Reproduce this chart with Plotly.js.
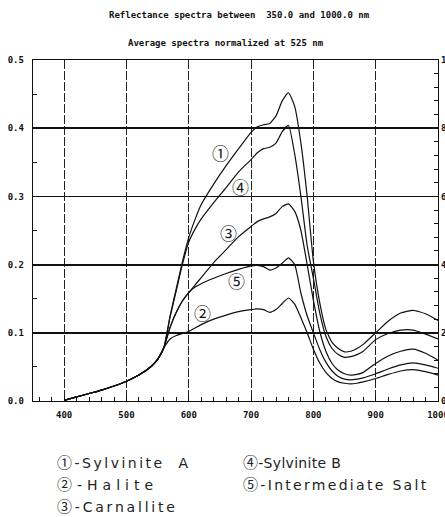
<!DOCTYPE html>
<html>
<head>
<meta charset="utf-8">
<script src="https://cdn.plot.ly/plotly-3.0.1.min.js"></script>
<style>
html,body{margin:0;padding:0;background:#fff;overflow:hidden;}
#chart{width:445px;height:517px;}
</style>
</head>
<body>
<div id="chart"></div>
<script>
// Wavelengths (nm)
const wavelengths = [400,420,440,460,480,500,520,540,550,560,570,580,590,600,610,620,640,660,680,700,710,720,730,740,750,760,770,780,790,800,810,820,830,840,850,860,870,880,900,920,940,960,980,1000];

// Reflectance, normalized at 525 nm
const sylviniteA = [0.001,0.006,0.011,0.016,0.022,0.029,0.038,0.051,0.061,0.078,0.125,0.165,0.205,0.240,0.266,0.288,0.318,0.345,0.370,0.394,0.402,0.405,0.407,0.418,0.440,0.452,0.432,0.378,0.300,0.205,0.145,0.105,0.086,0.077,0.072,0.073,0.077,0.083,0.100,0.117,0.129,0.133,0.128,0.118];
const halite = [0.001,0.006,0.011,0.016,0.022,0.029,0.038,0.051,0.061,0.078,0.091,0.096,0.099,0.102,0.107,0.112,0.120,0.126,0.131,0.134,0.135,0.134,0.130,0.134,0.143,0.151,0.142,0.122,0.100,0.076,0.056,0.042,0.033,0.028,0.026,0.025,0.026,0.028,0.033,0.039,0.044,0.046,0.043,0.038];
const carnallite = [0.001,0.006,0.011,0.016,0.022,0.029,0.038,0.051,0.061,0.078,0.108,0.130,0.147,0.159,0.170,0.181,0.203,0.222,0.241,0.256,0.263,0.267,0.270,0.275,0.285,0.289,0.278,0.250,0.200,0.148,0.103,0.073,0.055,0.045,0.040,0.038,0.039,0.042,0.055,0.066,0.073,0.076,0.070,0.060];
const sylviniteB = [0.001,0.006,0.011,0.016,0.022,0.029,0.038,0.051,0.061,0.078,0.123,0.162,0.201,0.233,0.252,0.267,0.291,0.313,0.336,0.354,0.364,0.370,0.372,0.378,0.395,0.404,0.362,0.300,0.228,0.180,0.130,0.095,0.077,0.068,0.064,0.065,0.068,0.073,0.090,0.099,0.104,0.104,0.098,0.091];
const intermediateSalt = [0.001,0.006,0.011,0.016,0.022,0.029,0.038,0.051,0.061,0.078,0.108,0.130,0.147,0.159,0.167,0.172,0.180,0.187,0.193,0.198,0.199,0.197,0.192,0.195,0.202,0.210,0.200,0.158,0.125,0.100,0.076,0.057,0.044,0.036,0.032,0.031,0.032,0.034,0.040,0.047,0.053,0.056,0.053,0.048];

const seriesValues = [sylviniteA, halite, carnallite, sylviniteB, intermediateSalt];
const seriesMarks = ["①","②","③","④","⑤"];
const seriesNames = ["Sylvinite A","Halite","Carnallite","Sylvinite B","Intermediate Salt"];
const legendLabels = ["Sylvinite  A","Halite","Carnallite","Sylvinite B","Intermediate Salt"];

const xTickVals = [400,500,600,700,800,900,1000];
const yTickVals = [0,0.1,0.2,0.3,0.4,0.5];
const y2TickVals = [0,20,40,60,80,100];

const titleLine1 = "Reflectance spectra between  350.0 and 1000.0 nm";
const titleLine2 = "Average spectra normalized at 525 nm";

const bitFont = {family: "DejaVu Sans Mono", size: 9, color: "#111", weight: "bold"};
const circFamily = "Noto Sans CJK JP";

// plot area geometry in pixels
const M = {l: 33, r: 7, t: 60, b: 116};
const PH = 517 - M.t - M.b, PW = 445 - M.l - M.r;
const py = p => (517 - M.b - p) / PH;
const px = p => (p - M.l) / PW;

const traces = seriesValues.map((vals, i) => ({
  x: wavelengths, y: vals, type: "scatter", mode: "lines",
  name: seriesNames[i],
  line: {color: "#111", width: 1.2, shape: "spline", smoothing: 0.5},
  hoverinfo: "skip", showlegend: false
}));
traces.push({x: [350], y: [0], yaxis: "y2", mode: "markers", marker: {opacity: 0}, showlegend: false, hoverinfo: "skip"});

const curveLabelPos = [[651,0.365],[622,0.130],[664,0.247],[683,0.315],[677,0.176]];
const annotations = curveLabelPos.map((p, i) => ({
  x: p[0], y: p[1], xref: "x", yref: "y", text: seriesMarks[i], showarrow: false,
  font: {family: circFamily, size: 17, color: "#111"}
}));

annotations.push({xref: "paper", yref: "paper", x: px(240), y: py(15), yanchor: "middle", xanchor: "center", text: titleLine1, showarrow: false, font: bitFont});
annotations.push({xref: "paper", yref: "paper", x: px(226), y: py(43), yanchor: "middle", xanchor: "center", text: titleLine2, showarrow: false, font: bitFont});

const legendPos = [[57,461],[57,483],[57,505],[243,461],[243,483]];
const legendStart = annotations.length;
legendPos.forEach((p, i) => {
  annotations.push({
    xref: "paper", yref: "paper",
    x: px(p[0]), y: py(p[1]), yanchor: "middle", xanchor: "left",
    text: '<span style="font-family:' + circFamily + ';font-size:15px">' + seriesMarks[i] + '</span>-' + legendLabels[i],
    showarrow: false,
    font: {family: "DejaVu Sans", size: 14, color: "#222"}
  });
});
const legendSpacing = [2.5, 5, 2.8, 0.3, 2.3];

const layout = {
  width: 445, height: 517,
  margin: M,
  paper_bgcolor: "#fff", plot_bgcolor: "#fff",
  showlegend: false,
  xaxis: {
    range: [350, 1000], tickvals: xTickVals, ticktext: xTickVals.map(String),
    showline: true, linecolor: "#111", linewidth: 1.3, mirror: true,
    showgrid: true, gridcolor: "#222", gridwidth: 1, griddash: "9px,2px",
    ticks: "inside", ticklen: 5, tickcolor: "#111",
    minor: {dtick: 20, tick0: 400, ticks: "inside", ticklen: 4, tickcolor: "#111", showgrid: false},
    tickfont: bitFont, ticklabelstandoff: 5, ticklabeloverflow: "allow", zeroline: false
  },
  yaxis: {
    range: [0, 0.5], tickvals: yTickVals, ticktext: yTickVals.map(v => v.toFixed(1)),
    showline: true, linecolor: "#111", linewidth: 1.3, mirror: true,
    showgrid: true, gridcolor: "#111", gridwidth: 1.8,
    ticks: "inside", ticklen: 4, tickcolor: "#111",
    minor: {dtick: 0.05, tick0: 0, ticks: "inside", ticklen: 4, tickcolor: "#111", showgrid: false},
    tickfont: bitFont, ticklabelstandoff: 6, zeroline: false
  },
  yaxis2: {
    overlaying: "y", side: "right", range: [0, 100], tickvals: y2TickVals,
    showline: false, showgrid: false, zeroline: false,
    ticks: "inside", ticklen: 4, tickcolor: "#111",
    minor: {dtick: 4, tick0: 0, ticks: "inside", ticklen: 4, tickcolor: "#111"},
    tickfont: bitFont, ticklabelstandoff: 2, ticklabeloverflow: "allow"
  },
  annotations: annotations
};

Plotly.newPlot("chart", traces, layout, {staticPlot: true, displayModeBar: false}).then(gd => {
  const host = gd.getBoundingClientRect();
  gd.querySelectorAll(".annotation").forEach(a => {
    const idx = +a.getAttribute("data-index");
    if (idx < legendStart) return;
    const k = idx - legendStart;
    const t = a.querySelector("text");
    if (!t) return;
    t.style.letterSpacing = legendSpacing[k] + "px";
    const r = t.getBoundingClientRect();
    const dx = (legendPos[k][0] + host.left) - r.left;
    t.setAttribute("transform", "translate(" + dx.toFixed(1) + ",0)");
  });
});
</script>
</body>
</html>
